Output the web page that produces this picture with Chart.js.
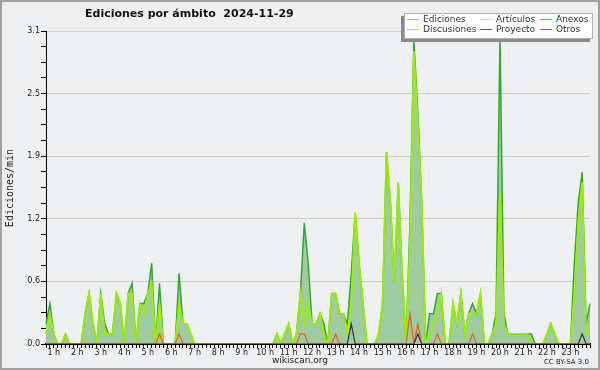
<!DOCTYPE html>
<html>
<head>
<meta charset="utf-8">
<script src="https://cdn.jsdelivr.net/npm/chart.js@4.4.1/dist/chart.umd.min.js"></script>
<style>
    html, body { margin: 0; padding: 0; background: #eeeff1; }
    canvas { display: block; }
</style>
</head>
<body>
<canvas id="graficoAmbitosCanvas" width="600" height="370"></canvas>
<script>
// ediciones por minuto, un punto cada 10 minutos desde las 0:40
const ediciones = [
    0.2, 0.4, 0.1, 0, 0, 0.1, 0, 0, 0, 0,
    0.3, 0.5, 0.2, 0, 0.5, 0.2, 0.1, 0.1, 0.5, 0.4,
    0, 0.5, 0.6, 0, 0.4, 0.4, 0.5, 0.8, 0, 0.6,
    0, 0, 0, 0, 0.7, 0.2, 0.2, 0.1, 0, 0,
    0, 0, 0, 0, 0, 0, 0, 0, 0, 0,
    0, 0, 0, 0, 0, 0, 0, 0, 0, 0.1,
    0, 0.1, 0.2, 0, 0.1, 0.5, 1.2, 0.8, 0.2, 0.2,
    0.3, 0.2, 0, 0.5, 0.5, 0.3, 0.3, 0.2, 0.7, 1.3,
    0.8, 0.4, 0, 0, 0, 0.1, 0.4, 1.9, 1.4, 0.6,
    1.6, 0.7, 0, 1.2, 3.0, 2.3, 1.4, 0, 0.3, 0.3,
    0.5, 0.5, 0, 0, 0.4, 0.2, 0.5, 0.1, 0.3, 0.4,
    0.3, 0.5, 0, 0, 0.1, 0.3, 3.05, 0.3, 0.1, 0.1,
    0.1, 0.1, 0.1, 0.1, 0.1, 0, 0, 0, 0.1, 0.2,
    0.1, 0, 0, 0, 0, 0.8, 1.4, 1.7, 0.2, 0.4
]
const articulos = [
    0.1, 0.3, 0.1, 0, 0, 0.1, 0, 0, 0, 0,
    0.3, 0.5, 0.2, 0, 0.5, 0.1, 0.1, 0.1, 0.5, 0.4,
    0, 0.5, 0.5, 0, 0.4, 0.3, 0.5, 0.6, 0, 0.4,
    0, 0, 0, 0, 0.4, 0.2, 0.2, 0.1, 0, 0,
    0, 0, 0, 0, 0, 0, 0, 0, 0, 0,
    0, 0, 0, 0, 0, 0, 0, 0, 0, 0.1,
    0, 0.1, 0.2, 0, 0.1, 0.5, 0.2, 0.4, 0.2, 0.2,
    0.3, 0.1, 0, 0.5, 0.5, 0.3, 0.3, 0.1, 0.4, 1.3,
    0.8, 0.4, 0, 0, 0, 0.1, 0.4, 1.9, 1.4, 0.6,
    1.6, 0.7, 0, 1.0, 2.9, 2.2, 1.4, 0, 0.1, 0.2,
    0.3, 0.5, 0, 0, 0.4, 0.2, 0.5, 0.1, 0.3, 0.3,
    0.3, 0.5, 0, 0, 0.1, 0.2, 1.5, 0.2, 0.1, 0.1,
    0.1, 0.1, 0.1, 0.1, 0, 0, 0, 0, 0.1, 0.2,
    0.1, 0, 0, 0, 0, 0.5, 1.2, 1.6, 0.1, 0.1
]
const anexos = [
    0, 0, 0, 0, 0, 0, 0, 0, 0, 0,
    0, 0, 0, 0, 0, 0, 0, 0, 0, 0,
    0, 0, 0, 0, 0, 0, 0, 0, 0, 0.1,
    0, 0, 0, 0, 0.1, 0, 0, 0, 0, 0,
    0, 0, 0, 0, 0, 0, 0, 0, 0, 0,
    0, 0, 0, 0, 0, 0, 0, 0, 0, 0,
    0, 0, 0, 0, 0, 0.1, 0.1, 0, 0, 0,
    0, 0, 0, 0, 0.1, 0, 0, 0, 0, 0,
    0, 0, 0, 0, 0, 0, 0, 0, 0, 0,
    0, 0, 0, 0.3, 0, 0.2, 0, 0, 0, 0,
    0.1, 0, 0, 0, 0, 0, 0, 0, 0, 0.1,
    0, 0, 0, 0, 0, 0, 0, 0, 0, 0,
    0, 0, 0, 0, 0, 0, 0, 0, 0, 0,
    0, 0, 0, 0, 0, 0, 0, 0, 0, 0
]
const proyecto = [
    0, 0, 0, 0, 0, 0, 0, 0, 0, 0,
    0, 0, 0, 0, 0, 0, 0, 0, 0, 0,
    0, 0, 0, 0, 0, 0, 0, 0, 0, 0,
    0, 0, 0, 0, 0, 0, 0, 0, 0, 0,
    0, 0, 0, 0, 0, 0, 0, 0, 0, 0,
    0, 0, 0, 0, 0, 0, 0, 0, 0, 0,
    0, 0, 0, 0, 0, 0, 0, 0, 0, 0,
    0, 0, 0, 0, 0, 0, 0, 0, 0.2, 0,
    0, 0, 0, 0, 0, 0, 0, 0, 0, 0,
    0, 0, 0, 0, 0, 0.1, 0, 0, 0, 0,
    0, 0, 0, 0, 0, 0, 0, 0, 0, 0,
    0, 0, 0, 0, 0, 0, 0, 0, 0, 0,
    0, 0, 0, 0, 0, 0, 0, 0, 0, 0,
    0, 0, 0, 0, 0, 0, 0, 0.1, 0, 0
]
const etiquetasHoras = ['1 h', '2 h', '3 h', '4 h', '5 h', '6 h', '7 h', '8 h', '9 h', '10 h', '11 h', '12 h',
    '13 h', '14 h', '15 h', '16 h', '17 h', '18 h', '19 h', '20 h', '21 h', '22 h', '23 h']
const etiquetasY = ['0.0', '0.6', '1.2', '1.9', '2.5', '3.1']
const nombresSeries = ['Ediciones', 'Artículos', 'Anexos', 'Discusiones', 'Proyecto', 'Otros']
const coloresLeyenda = ['#7fd57f', '#c6ee5a', '#f0703a', '#f8c83c', '#555555', '#9a44f0']

const inicioMinutos = 40
const maximoY = 3.1

let horarios = []
for (let k = 0; k < ediciones.length; k++) {
    let m = inicioMinutos + 10 * k
    horarios.push(Math.floor(m / 60) + ':' + String(m % 60).padStart(2, '0'))
}

const marco = {
    id: 'marco',
    beforeDraw(chart) {
        const ctx = chart.ctx
        ctx.save()
        ctx.fillStyle = '#eeeff1'
        ctx.fillRect(0, 0, chart.width, chart.height)
        ctx.restore()
    },
    afterDraw(chart) {
        const ctx = chart.ctx
        ctx.save()
        ctx.fillStyle = '#111'
        ctx.textBaseline = 'middle'
        ctx.font = "bold 11px 'DejaVu Sans'"
        ctx.fillText('Ediciones por ámbito  2024-11-29', 85, 14)

        ctx.fillStyle = '#222'
        ctx.font = "10px 'DejaVu Sans Mono'"
        ctx.save()
        ctx.translate(10, 188)
        ctx.rotate(-Math.PI / 2)
        ctx.textAlign = 'center'
        ctx.fillText('Ediciones/min', 0, 0)
        ctx.restore()

        ctx.font = "9px 'DejaVu Sans'"
        ctx.textAlign = 'center'
        ctx.fillText('wikiscan.org', 300, 361)
        ctx.font = "7px 'DejaVu Sans'"
        ctx.textAlign = 'right'
        ctx.fillText('CC BY-SA 3.0', 589, 362)

        // leyenda
        ctx.fillStyle = '#8a8a8a'
        ctx.fillRect(401, 16, 189, 26)
        ctx.fillStyle = '#ffffff'
        ctx.fillRect(404, 13, 189, 26)
        ctx.strokeStyle = '#b0b0b0'
        ctx.lineWidth = 1
        ctx.strokeRect(404.5, 13.5, 188, 25)
        const columnas = [407, 480, 540]
        const filas = [19.5, 29.5]
        ctx.font = "9px 'DejaVu Sans'"
        ctx.textAlign = 'left'
        nombresSeries.forEach((nombre, i) => {
            let x = columnas[i % 3]
            let y = filas[Math.floor(i / 3)]
            ctx.strokeStyle = coloresLeyenda[i]
            ctx.beginPath()
            ctx.moveTo(x, y)
            ctx.lineTo(x + 12, y)
            ctx.stroke()
            ctx.fillStyle = '#333'
            ctx.fillText(nombre, x + 16, y)
        })

        ctx.strokeStyle = '#a0a0a0'
        ctx.lineWidth = 2
        ctx.strokeRect(1, 1, chart.width - 2, chart.height - 2)
        ctx.restore()
    }
}

const graficoAmbitos = new Chart(document.getElementById('graficoAmbitosCanvas'), {
    type: 'line',
    data: {
        labels: horarios,
        datasets: [
            {
                label: nombresSeries[0],
                data: ediciones,
                borderColor: '#36a536',
                backgroundColor: '#a0cba0',
                borderWidth: 1.5,
                fill: 'origin',
                order: 3
            },
            {
                label: nombresSeries[1],
                data: articulos,
                borderColor: '#9cee00',
                borderWidth: 1.8,
                fill: false,
                order: 2
            },
            {
                label: nombresSeries[2],
                data: anexos,
                borderColor: '#f05a20',
                borderWidth: 1.2,
                fill: false,
                order: 1
            },
            {
                label: nombresSeries[4],
                data: proyecto,
                borderColor: '#333333',
                borderWidth: 1.2,
                fill: false,
                order: 0
            }
        ]
    },
    options: {
        responsive: false,
        animation: false,
        devicePixelRatio: 1,
        elements: {
            point: { radius: 0, hoverRadius: 0 },
            line: { tension: 0 }
        },
        layout: {
            padding: { left: 0, right: 10, top: 31, bottom: 0 }
        },
        plugins: {
            legend: { display: false },
            title: { display: false },
            tooltip: { enabled: false }
        },
        scales: {
            x: {
                type: 'category',
                offset: false,
                z: 1,
                afterFit: function (scale) { scale.height = 26 },
                border: { display: true, color: '#000', width: 2 },
                grid: {
                    drawOnChartArea: false,
                    drawTicks: true,
                    tickLength: 4,
                    color: '#000'
                },
                ticks: {
                    autoSkip: false,
                    maxRotation: 0,
                    minRotation: 0,
                    padding: 0,
                    color: '#222',
                    font: { family: 'DejaVu Sans', size: 8 },
                    callback: function (value, index) {
                        let m = inicioMinutos + 10 * index
                        return m % 60 === 0 ? etiquetasHoras[m / 60 - 1] : ''
                    }
                }
            },
            y: {
                type: 'linear',
                min: 0,
                max: maximoY,
                afterFit: function (scale) { scale.width = 46 },
                afterBuildTicks: function (scale) {
                    scale.ticks = []
                    for (let i = 0; i <= 20; i++) {
                        scale.ticks.push({ value: maximoY * i / 20 })
                    }
                },
                border: { display: true, color: '#000', width: 1 },
                grid: {
                    drawTicks: true,
                    tickLength: 5,
                    tickColor: '#000',
                    color: function (context) {
                        return context.index % 4 === 0 ? '#cdcdcd' : 'rgba(0,0,0,0)'
                    }
                },
                ticks: {
                    padding: 1,
                    color: '#222',
                    font: { family: 'DejaVu Sans', size: 8 },
                    callback: function (value, index) {
                        return index % 4 === 0 ? etiquetasY[index / 4] : ''
                    }
                }
            }
        }
    },
    plugins: [marco]
})
</script>
</body>
</html>
